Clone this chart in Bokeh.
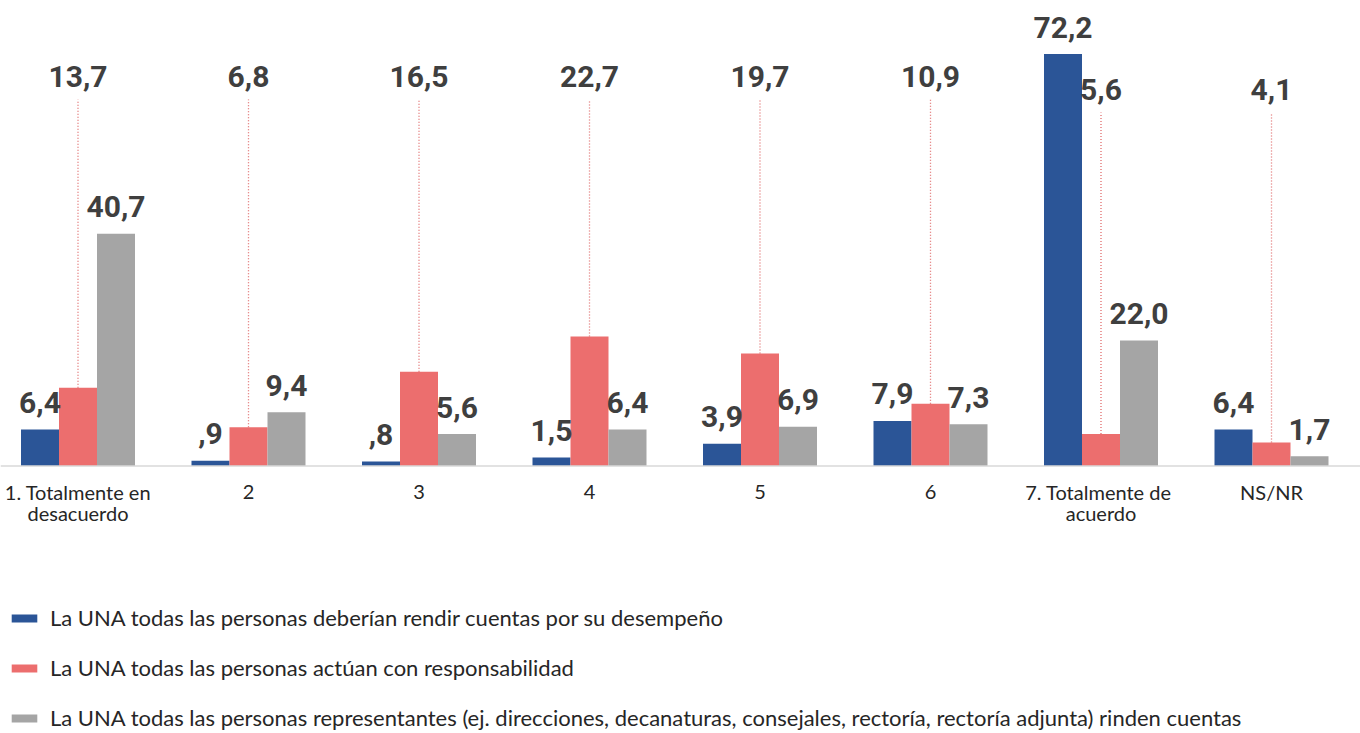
from bokeh.plotting import figure
from bokeh.models import Range1d, ColumnDataSource, Legend, LegendItem, Span
from bokeh.core.properties import value
from bokeh.embed import file_html
from bokeh.resources import INLINE

# ---------------- data ----------------
categories = ["1. Totalmente en\ndesacuerdo", "2", "3", "4", "5", "6",
              "7. Totalmente  de\nacuerdo", "NS/NR"]
series_names = [
    "La UNA todas las personas deberían rendir cuentas por su desempeño",
    "La UNA todas las personas actúan con responsabilidad",
    "La UNA todas las personas representantes (ej. direcciones, decanaturas, consejales, rectoría, rectoría adjunta) rinden cuentas",
]
rendir = [6.4, 0.9, 0.8, 1.5, 3.9, 7.9, 72.2, 6.4]
actuan = [13.7, 6.8, 16.5, 22.7, 19.7, 10.9, 5.6, 4.1]
representantes = [40.7, 9.4, 5.6, 6.4, 6.9, 7.3, 22.0, 1.7]

# ---------------- style ----------------
colors = ["#2B5597", "#EC6E6E", "#A5A5A5"]
W, H = 1360, 733
PX_PER_UNIT = 5.706          # vertical scale
CAT_PX = 170.5               # category pitch in px
FIRST_CENTER_PX = 77.5       # frame x of first category center
BASE_PX = 465.5              # frame y (from top) of zero line
BAR_W = 38 / CAT_PX
U = 1.0 / PX_PER_UNIT        # data units per px

NUM_FONT = value("Roboto")
NUM_SIZE = 30
NUM_SHIFT = 11               # px correction of rendered baseline
TXT_FONT = value("Lato")
red_label_drop_px = [0, 0, 0, 0, 0, 0, 13, 13]

def fmt(v):
    s = f"{v:.1f}".replace(".", ",")
    return s[1:] if s.startswith("0,") else s

x_start = -FIRST_CENTER_PX / CAT_PX
x_end = x_start + W / CAT_PX
y_end = BASE_PX / PX_PER_UNIT
y_start = -(H - BASE_PX) / PX_PER_UNIT

p = figure(width=W, height=H, output_backend="svg", toolbar_location=None,
           x_range=Range1d(x_start, x_end), y_range=Range1d(y_start, y_end),
           x_axis_type=None, y_axis_type=None, min_border=0,
           outline_line_color=None, background_fill_color="white")
p.grid.visible = False

idx = list(range(len(categories)))
series = [rendir, actuan, representantes]
offsets = [-BAR_W, 0.0, BAR_W]
renderers = []
for vals, off, col in zip(series, offsets, colors):
    src = ColumnDataSource(dict(x=[i + off for i in idx], top=vals))
    r = p.vbar(x="x", top="top", bottom=0, width=BAR_W, source=src,
               fill_color=col, line_color=None)
    renderers.append(r)

NUM_STYLE = dict(text_font=NUM_FONT, text_font_size=f"{NUM_SIZE}px", text_font_style="bold",
                 text_color="#3F3F3F", text_align="center", text_baseline="alphabetic")

# labels above blue and gray bars
for k in (0, 2):
    vals = series[k]
    src = ColumnDataSource(dict(x=[i + offsets[k] for i in idx],
                                y=[v + (16 + NUM_SHIFT) * U for v in vals],
                                lab=[fmt(v) for v in vals]))
    p.text(x="x", y="y", text="lab", source=src, **NUM_STYLE)

# red labels at the top with dotted leader lines
red_lab_y = [(BASE_PX - 87 + NUM_SHIFT - d) * U for d in red_label_drop_px]
red_line_top = [(BASE_PX - 99 - d) * U for d in red_label_drop_px]
src_red = ColumnDataSource(dict(x=idx, y=red_lab_y, y0=actuan, y1=red_line_top,
                                lab=[fmt(v) for v in actuan]))
p.segment(x0="x", x1="x", y0="y0", y1="y1", source=src_red,
          line_color="#E06A6A", line_width=1.3, line_dash="1 2")
p.text(x="x", y="y", text="lab", source=src_red, **NUM_STYLE)

# zero line
p.add_layout(Span(location=0, dimension="width", line_color="#D9D9D9", line_width=1.5))

# category labels (two lines max)
line1 = [c.split("\n")[0] for c in categories]
line2 = [c.split("\n")[1] if "\n" in c else "" for c in categories]
src_cat = ColumnDataSource(dict(x=idx, y1=[-26 * U] * len(idx), y2=[-47 * U] * len(idx),
                                l1=line1, l2=line2))
for yk, lk in (("y1", "l1"), ("y2", "l2")):
    p.text(x="x", y=yk, text=lk, source=src_cat, text_font=TXT_FONT,
           text_font_size="20px", text_color="#262626",
           text_align="center", text_baseline="alphabetic")

legend = Legend(items=[LegendItem(label=n, renderers=[r]) for n, r in zip(series_names, renderers)],
                location=(8, 2), orientation="vertical", padding=0, margin=0,
                spacing=23, glyph_width=32, glyph_height=10, label_height=20,
                label_standoff=10, label_text_font="Lato", label_text_font_size="22px",
                label_text_color="#262626", border_line_alpha=0, background_fill_alpha=0)
p.add_layout(legend)

open("out.html", "w").write(file_html(p, INLINE))
